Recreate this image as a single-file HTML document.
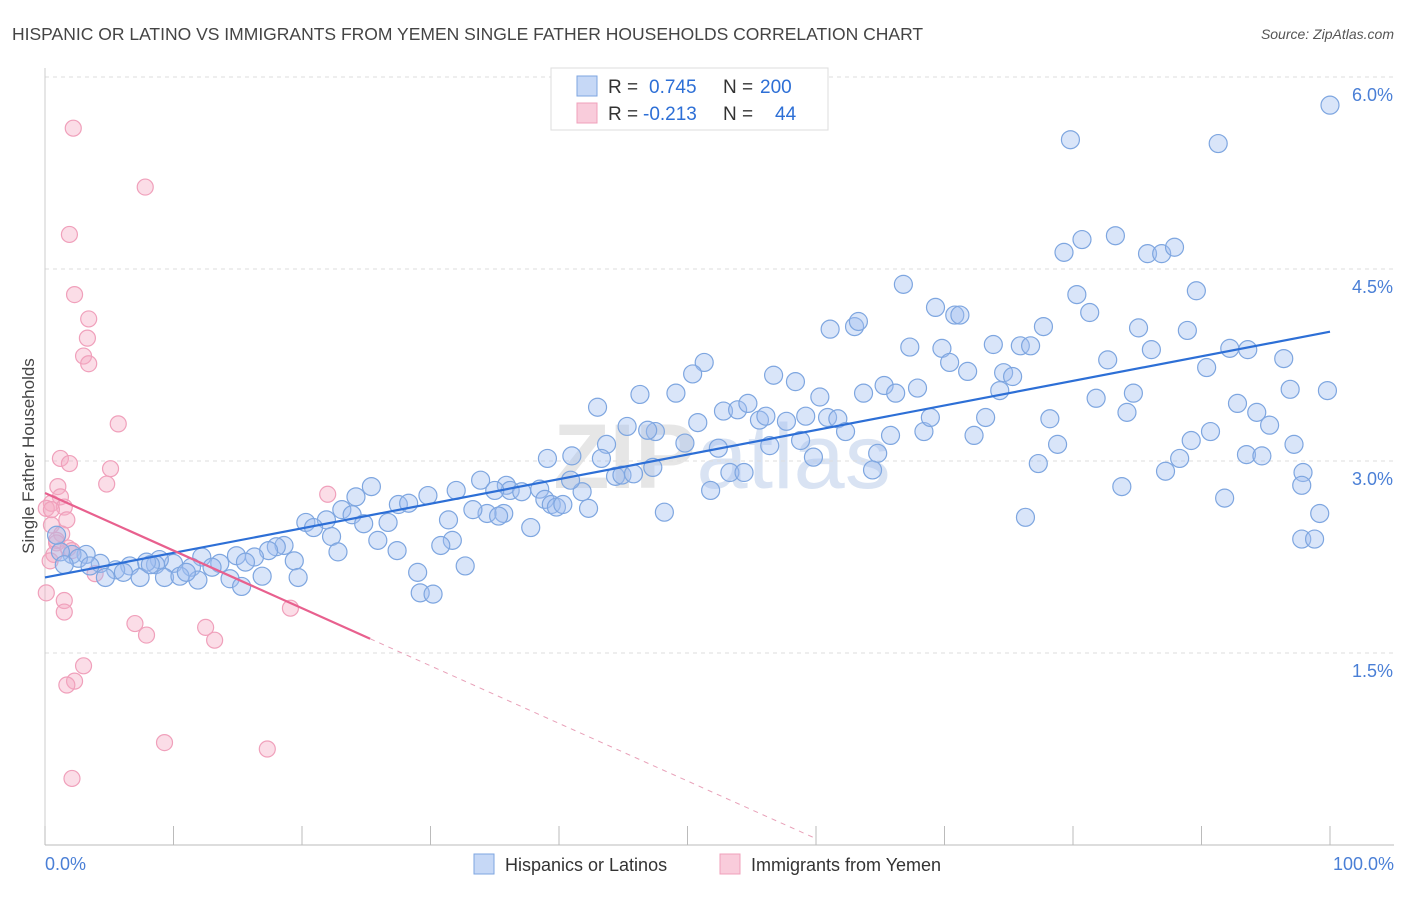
<!DOCTYPE html>
<html><head><meta charset="utf-8">
<style>
body{margin:0;background:#fff;font-family:"Liberation Sans",sans-serif;}
svg text{font-family:"Liberation Sans",sans-serif;}
</style></head>
<body>
<svg id="chart" width="1406" height="892" xmlns="http://www.w3.org/2000/svg">
<text x="12" y="40" font-size="17.5" fill="#444">HISPANIC OR LATINO VS IMMIGRANTS FROM YEMEN SINGLE FATHER HOUSEHOLDS CORRELATION CHART</text>
<text x="1394" y="39" font-size="14" fill="#555" text-anchor="end" font-style="italic">Source: ZipAtlas.com</text>
<text x="722" y="488" font-size="92" fill="#e6e6e6" text-anchor="middle" font-weight="bold">ZIP<tspan font-weight="normal" fill="#d9e3f3">atlas</tspan></text>
<g id="grid"></g>
<g id="axes"></g>
<g id="pts"></g>
<g id="trends"></g>
<text transform="translate(34,456) rotate(-90)" font-size="17" fill="#444" text-anchor="middle">Single Father Households</text>
<g>
<rect x="551" y="68" width="277" height="62" fill="#fff" stroke="#ddd"/>
<rect x="577" y="76" width="20" height="20" fill="rgba(160,190,240,0.6)" stroke="#7ea6e0"/>
<rect x="577" y="103" width="20" height="20" fill="rgba(245,170,195,0.6)" stroke="#f0a0bb"/>
<text x="608" y="93" font-size="19" fill="#333">R = </text><text x="649" y="93" font-size="19" fill="#2d6fd6">0.745</text>
<text x="723" y="93" font-size="19" fill="#333">N = </text><text x="760" y="93" font-size="19" fill="#2d6fd6">200</text>
<text x="608" y="120" font-size="19" fill="#333">R = </text><text x="643" y="120" font-size="19" fill="#2d6fd6">-0.213</text>
<text x="723" y="120" font-size="19" fill="#333">N = </text><text x="775" y="120" font-size="19" fill="#2d6fd6">44</text>
</g>
<g>
<rect x="474" y="854" width="20" height="20" fill="rgba(160,190,240,0.6)" stroke="#7ea6e0"/>
<text x="505" y="871" font-size="18" fill="#333">Hispanics or Latinos</text>
<rect x="720" y="854" width="20" height="20" fill="rgba(245,170,195,0.6)" stroke="#f0a0bb"/>
<text x="751" y="871" font-size="18" fill="#333">Immigrants from Yemen</text>
</g>
</svg>
<script>
const yTicks=[1.5,3.0,4.5,6.0];
const yTickLabels=["1.5%","3.0%","4.5%","6.0%"];
const xTicks=[0,10,20,30,40,50,60,70,80,90,100];
const xEndLabels=["0.0%","100.0%"];
const blueX=[100,79.8,91.3,79.3,80.7,83.3,85.8,86.9,87.9,66.8,80.3,89.6,69.3,70.8,71.2,81.3,61.1,63.0,63.3,77.7,85.1,88.9,67.3,69.8,73.8,75.9,76.7,92.2,93.6,86.1,51.3,50.4,56.7,58.4,70.4,71.8,74.6,75.3,82.7,96.4,90.4,46.3,49.1,60.3,63.7,65.3,66.2,67.9,74.3,84.7,96.9,99.8,43.0,52.8,53.9,54.7,55.6,56.1,57.7,59.2,60.9,61.7,62.3,81.8,84.2,92.8,94.3,95.3,50.8,47.5,46.9,45.3,43.7,49.8,52.4,56.4,58.8,59.8,64.8,65.8,68.4,68.9,72.3,73.2,78.2,78.8,89.2,90.7,97.2,97.9,77.3,88.3,93.5,94.7,87.2,83.8,91.8,97.8,99.2,97.8,98.8,76.3,39.1,41.0,43.3,47.3,44.4,44.9,45.8,53.3,54.4,64.4,33.9,35.9,36.2,37.1,38.5,32.0,25.4,24.2,27.5,28.3,29.8,41.8,40.9,35.0,38.9,39.4,39.8,40.3,42.3,37.8,35.7,34.4,35.3,33.3,31.4,51.8,48.2,23.1,23.9,24.8,26.7,21.9,20.3,20.9,22.3,25.9,31.7,30.8,27.4,22.8,19.4,18.6,18.0,17.4,16.3,14.9,13.6,12.2,11.4,10.0,8.9,8.6,7.9,6.6,5.5,4.3,3.2,2.1,2.6,1.2,0.9,1.5,3.5,4.7,6.1,7.4,9.3,10.5,11.9,13.0,14.4,15.3,16.9,19.7,15.6,29.0,29.2,30.2,32.7,11.0,8.2];
const blueY=[5.78,5.51,5.48,4.63,4.73,4.76,4.62,4.62,4.67,4.38,4.30,4.33,4.20,4.14,4.14,4.16,4.03,4.05,4.09,4.05,4.04,4.02,3.89,3.88,3.91,3.90,3.90,3.88,3.87,3.87,3.77,3.68,3.67,3.62,3.77,3.70,3.69,3.66,3.79,3.80,3.73,3.52,3.53,3.50,3.53,3.59,3.53,3.57,3.55,3.53,3.56,3.55,3.42,3.39,3.40,3.45,3.32,3.35,3.31,3.35,3.34,3.33,3.23,3.49,3.38,3.45,3.38,3.28,3.30,3.23,3.24,3.27,3.13,3.14,3.10,3.12,3.16,3.03,3.06,3.20,3.23,3.34,3.20,3.34,3.33,3.13,3.16,3.23,3.13,2.91,2.98,3.02,3.05,3.04,2.92,2.80,2.71,2.81,2.59,2.39,2.39,2.56,3.02,3.04,3.02,2.95,2.88,2.89,2.90,2.91,2.91,2.93,2.85,2.81,2.77,2.76,2.78,2.77,2.80,2.72,2.66,2.67,2.73,2.76,2.85,2.77,2.70,2.66,2.64,2.66,2.63,2.48,2.59,2.59,2.57,2.62,2.54,2.77,2.60,2.62,2.58,2.51,2.52,2.54,2.52,2.48,2.41,2.38,2.38,2.34,2.30,2.29,2.22,2.34,2.33,2.30,2.25,2.26,2.20,2.25,2.17,2.20,2.23,2.19,2.21,2.18,2.15,2.20,2.27,2.27,2.24,2.29,2.42,2.19,2.18,2.09,2.13,2.09,2.09,2.10,2.07,2.17,2.08,2.02,2.10,2.09,2.21,2.13,1.97,1.96,2.18,2.13,2.19];
const pinkX=[2.2,7.8,1.9,2.3,3.4,3.3,3.0,3.4,5.7,1.2,1.9,5.1,4.8,1.0,1.2,0.5,1.5,0.1,0.5,1.7,0.5,1.3,0.9,0.9,1.8,2.1,0.7,0.4,3.9,0.1,1.5,1.5,7.0,7.9,12.5,13.2,19.1,22.0,3.0,2.3,1.7,9.3,17.3,2.1];
const pinkY=[5.60,5.14,4.77,4.30,4.11,3.96,3.82,3.76,3.29,3.02,2.98,2.94,2.82,2.80,2.72,2.67,2.64,2.63,2.62,2.54,2.50,2.43,2.38,2.36,2.32,2.30,2.27,2.22,2.12,1.97,1.91,1.82,1.73,1.64,1.70,1.60,1.85,2.74,1.40,1.28,1.25,0.80,0.75,0.52];
const blueTrend=[2.09,4.01];
const pinkTrend=[2.75,-0.045];
const pinkSolidEnd=25.3, pinkDashEnd=60;

const NS="http://www.w3.org/2000/svg";
const sx=v=>45+v*12.85;
const sy=v=>845-v*128;
function mk(tag,attrs,parent){const e=document.createElementNS(NS,tag);for(const k in attrs)e.setAttribute(k,attrs[k]);parent.appendChild(e);return e;}
const grid=document.getElementById('grid'),axes=document.getElementById('axes'),pts=document.getElementById('pts'),tr=document.getElementById('trends');
yTicks.forEach((t,i)=>{
 const l=mk('line',{x1:45,x2:1394,y1:sy(t),y2:sy(t),stroke:'#ddd','stroke-dasharray':'4,4'},grid);
 
 
 const tx=mk('text',{x:1393,y:sy(t)+24,'font-size':18,fill:'#4a7fd6','text-anchor':'end'},axes);
 tx.textContent=yTickLabels[i];
 
 
});
const ax=mk('line',{x1:45,x2:1394,y1:845,y2:845,stroke:'#bbb'},axes);


const ay=mk('line',{x1:45,x2:45,y1:68,y2:845,stroke:'#ccc'},axes);


xTicks.forEach(t=>{
 const l=mk('line',{x1:sx(t),x2:sx(t),y1:826,y2:845,stroke:'#bbb'},axes);
 
 
});
const xl0=mk('text',{x:45,y:870,'font-size':18,fill:'#4a7fd6'},axes);xl0.textContent=xEndLabels[0];


const xl1=mk('text',{x:1394,y:870,'font-size':18,fill:'#4a7fd6','text-anchor':'end'},axes);xl1.textContent=xEndLabels[1];


pinkX.forEach((x,i)=>{
 const c=mk('circle',{cx:sx(x),cy:sy(pinkY[i]),r:8,fill:'rgba(245,170,195,0.4)',stroke:'#f0a0bb','stroke-width':1.2},pts);
 
 
});
blueX.forEach((x,i)=>{
 const c=mk('circle',{cx:sx(x),cy:sy(blueY[i]),r:9,fill:'rgba(160,190,240,0.4)',stroke:'#7ea6e0','stroke-width':1.2},pts);
 
 
});
const bl=mk('line',{x1:sx(0),y1:sy(blueTrend[0]),x2:sx(100),y2:sy(blueTrend[1]),stroke:'#2d6fd6','stroke-width':2.2},tr);


const pv=x=>pinkTrend[0]+pinkTrend[1]*x;
const pl=mk('line',{x1:sx(0),y1:sy(pv(0)),x2:sx(pinkSolidEnd),y2:sy(pv(pinkSolidEnd)),stroke:'#e8608e','stroke-width':2.2},tr);


const pd=mk('line',{x1:sx(pinkSolidEnd),y1:sy(pv(pinkSolidEnd)),x2:sx(pinkDashEnd),y2:sy(pv(pinkDashEnd)),stroke:'#e8a0b8','stroke-width':1,'stroke-dasharray':'5,5'},tr);


</script>
</body></html>
